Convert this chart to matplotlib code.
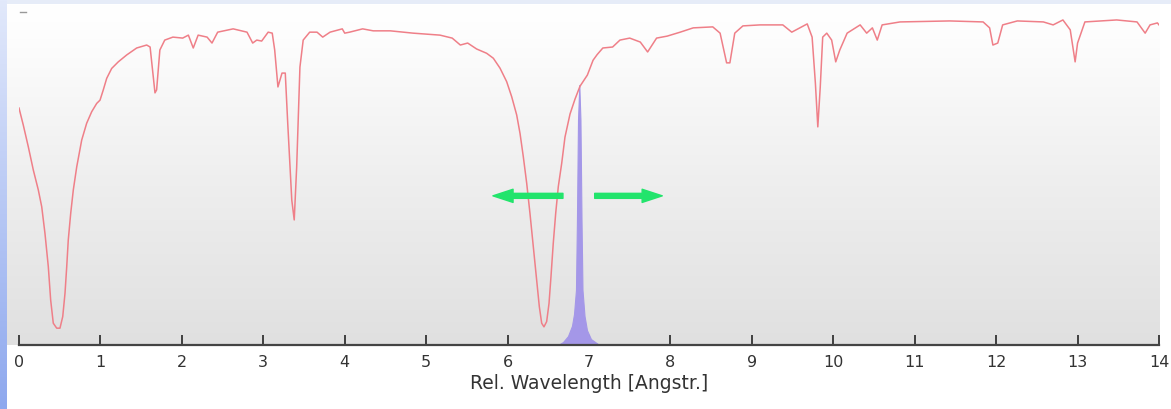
import numpy as np
import matplotlib
matplotlib.use("Agg")
import matplotlib.pyplot as plt
from matplotlib.colors import LinearSegmentedColormap

# absorption spectrum (red): wavelength, relative transmission
wave = [0.0, 0.053, 0.114, 0.176, 0.237, 0.279, 0.319, 0.360, 0.389, 0.421, 0.463, 0.503,
        0.537, 0.565, 0.586, 0.605, 0.635, 0.667, 0.709, 0.770, 0.831, 0.893, 0.954, 0.995,
        1.035, 1.077, 1.138, 1.219, 1.323, 1.445, 1.568, 1.61, 1.65, 1.67, 1.69, 1.73, 1.79,
        1.89, 2.01, 2.08, 2.14, 2.20, 2.31, 2.37, 2.44, 2.63, 2.80, 2.87, 2.92, 2.98, 3.06,
        3.11, 3.14, 3.18, 3.23, 3.27, 3.30, 3.35, 3.38, 3.41, 3.45, 3.49, 3.57, 3.66, 3.73,
        3.82, 3.97, 4.00, 4.06, 4.22, 4.35, 4.56, 4.84, 5.17, 5.32, 5.42, 5.51, 5.62, 5.743,
        5.825, 5.907, 5.989, 6.051, 6.112, 6.153, 6.193, 6.235, 6.275, 6.316, 6.358, 6.390,
        6.419, 6.447, 6.480, 6.509, 6.533, 6.561, 6.591, 6.623, 6.665, 6.705, 6.767, 6.828,
        6.889, 6.98, 7.05, 7.10, 7.17, 7.29, 7.38, 7.50, 7.63, 7.72, 7.83, 7.96, 8.12, 8.28,
        8.52, 8.61, 8.69, 8.73, 8.79, 8.89, 9.10, 9.22, 9.38, 9.49, 9.59, 9.68, 9.74, 9.78,
        9.81, 9.84, 9.87, 9.92, 9.98, 10.03, 10.08, 10.17, 10.33, 10.41, 10.48, 10.54, 10.60,
        10.82, 11.43, 11.84, 11.92, 11.96, 12.02, 12.08, 12.26, 12.58, 12.70, 12.82, 12.91,
        12.97, 13.00, 13.09, 13.48, 13.73, 13.83, 13.89, 13.98, 14.0]
trans = [0.718, 0.666, 0.601, 0.530, 0.470, 0.419, 0.338, 0.237, 0.136, 0.066, 0.051, 0.051,
         0.086, 0.157, 0.237, 0.318, 0.399, 0.470, 0.540, 0.621, 0.672, 0.707, 0.732, 0.742,
         0.773, 0.808, 0.838, 0.858, 0.879, 0.900, 0.909, 0.903, 0.812, 0.764, 0.773, 0.894,
         0.924, 0.933, 0.930, 0.939, 0.900, 0.939, 0.933, 0.915, 0.948, 0.958, 0.948, 0.915,
         0.924, 0.921, 0.948, 0.945, 0.894, 0.782, 0.824, 0.824, 0.673, 0.439, 0.379, 0.539,
         0.842, 0.924, 0.948, 0.948, 0.933, 0.948, 0.958, 0.945, 0.948, 0.958, 0.952, 0.952,
         0.945, 0.939, 0.930, 0.909, 0.915, 0.897, 0.884, 0.869, 0.839, 0.798, 0.752, 0.697,
         0.641, 0.571, 0.490, 0.399, 0.298, 0.197, 0.116, 0.066, 0.055, 0.071, 0.126, 0.207,
         0.308, 0.399, 0.480, 0.551, 0.630, 0.700, 0.745, 0.784, 0.818, 0.863, 0.880, 0.900,
         0.903, 0.924, 0.930, 0.918, 0.888, 0.930, 0.936, 0.948, 0.961, 0.964, 0.945, 0.855,
         0.855, 0.945, 0.967, 0.970, 0.970, 0.970, 0.948, 0.961, 0.973, 0.933, 0.794, 0.661,
         0.782, 0.933, 0.945, 0.924, 0.858, 0.894, 0.945, 0.970, 0.945, 0.961, 0.924, 0.970,
         0.979, 0.982, 0.979, 0.961, 0.909, 0.915, 0.970, 0.982, 0.979, 0.970, 0.985, 0.955,
         0.858, 0.915, 0.979, 0.985, 0.979, 0.945, 0.970, 0.976, 0.970]

# emission line (purple)
line_wave = [6.619, 6.681, 6.742, 6.791, 6.816, 6.840, 6.852, 6.865, 6.881, 6.895, 6.908,
             6.920, 6.945, 6.975, 7.024, 7.110]
line_int = [0.0, 0.009, 0.027, 0.058, 0.094, 0.167, 0.379, 0.682, 0.788, 0.682, 0.379,
            0.167, 0.088, 0.045, 0.018, 0.003]

# green arrows: (tail, tip) in wavelength, height
arrow_left = (6.68, 5.82)
arrow_right = (7.07, 7.90)
arrow_y = 0.452

xticks = list(range(0, 15))

W, H = 1171, 409
fig = plt.figure(figsize=(W / 100, H / 100), dpi=100)
fig.patch.set_facecolor("white")

# top strip and left blue strip
top = fig.add_axes([0, (H - 4) / H, 1, 4 / H])
top.axis("off")
top.add_patch(plt.Rectangle((0, 0), 1, 1, color="#e6ecf8", transform=top.transAxes))

left = fig.add_axes([0, 0, 7 / W, 1])
left.axis("off")
blue = LinearSegmentedColormap.from_list("b", ["#e2e9fb", "#8ea8ee"])
left.imshow(np.linspace(0, 1, 256).reshape(-1, 1), cmap=blue, aspect="auto",
            extent=[0, 1, 0, 1])

# plot background gradient
bg = fig.add_axes([7 / W, (H - 345) / H, (1160 - 7) / W, (345 - 4) / H])
bg.axis("off")
grey = LinearSegmentedColormap.from_list(
    "g", [(0, "#ffffff"), (0.1, "#fdfdfd"), (0.5, "#efefef"), (1, "#e0e0e0")])
bg.imshow(np.linspace(0, 1, 256).reshape(-1, 1), cmap=grey, aspect="auto",
          extent=[0, 1, 0, 1])

ax = fig.add_axes([19 / W, (H - 345) / H, (1159 - 19) / W, (345 - 15) / H])
ax.patch.set_alpha(0)
ax.set_xlim(0, 14)
ax.set_ylim(0, 1)

ax.fill_between(line_wave, 0, line_int, color="#a497e8", lw=0.8, zorder=2)
ax.plot(wave, trans, color="#ef7f88", lw=1.1, zorder=3)

for tail, tip in (arrow_left, arrow_right):
    ax.annotate("", xy=(tip, arrow_y), xytext=(tail, arrow_y),
                arrowprops=dict(arrowstyle="simple,head_length=1.45,head_width=0.95,tail_width=0.36",
                                color="#22e46c", shrinkA=0, shrinkB=0, mutation_scale=10),
                zorder=4)

for s in ["top", "right", "left"]:
    ax.spines[s].set_visible(False)
ax.spines["bottom"].set_color("#444444")
ax.spines["bottom"].set_linewidth(1.6)
ax.set_yticks([])
ax.set_xticks(xticks)
ax.set_xticklabels([str(t) for t in xticks])
ax.tick_params(axis="x", direction="in", length=7.5, width=1.3, color="#333333",
               pad=7, labelsize=11.5, labelcolor="#333333")
ax.set_xlabel("Rel. Wavelength [Angstr.]", fontsize=13.5, color="#333333", labelpad=3)

# small dash top-left
fig.add_artist(plt.Line2D([20 / W, 26 / W], [(H - 12) / H, (H - 12) / H],
                          color="#999999", lw=1))

fig.savefig("out.png", dpi=100)
